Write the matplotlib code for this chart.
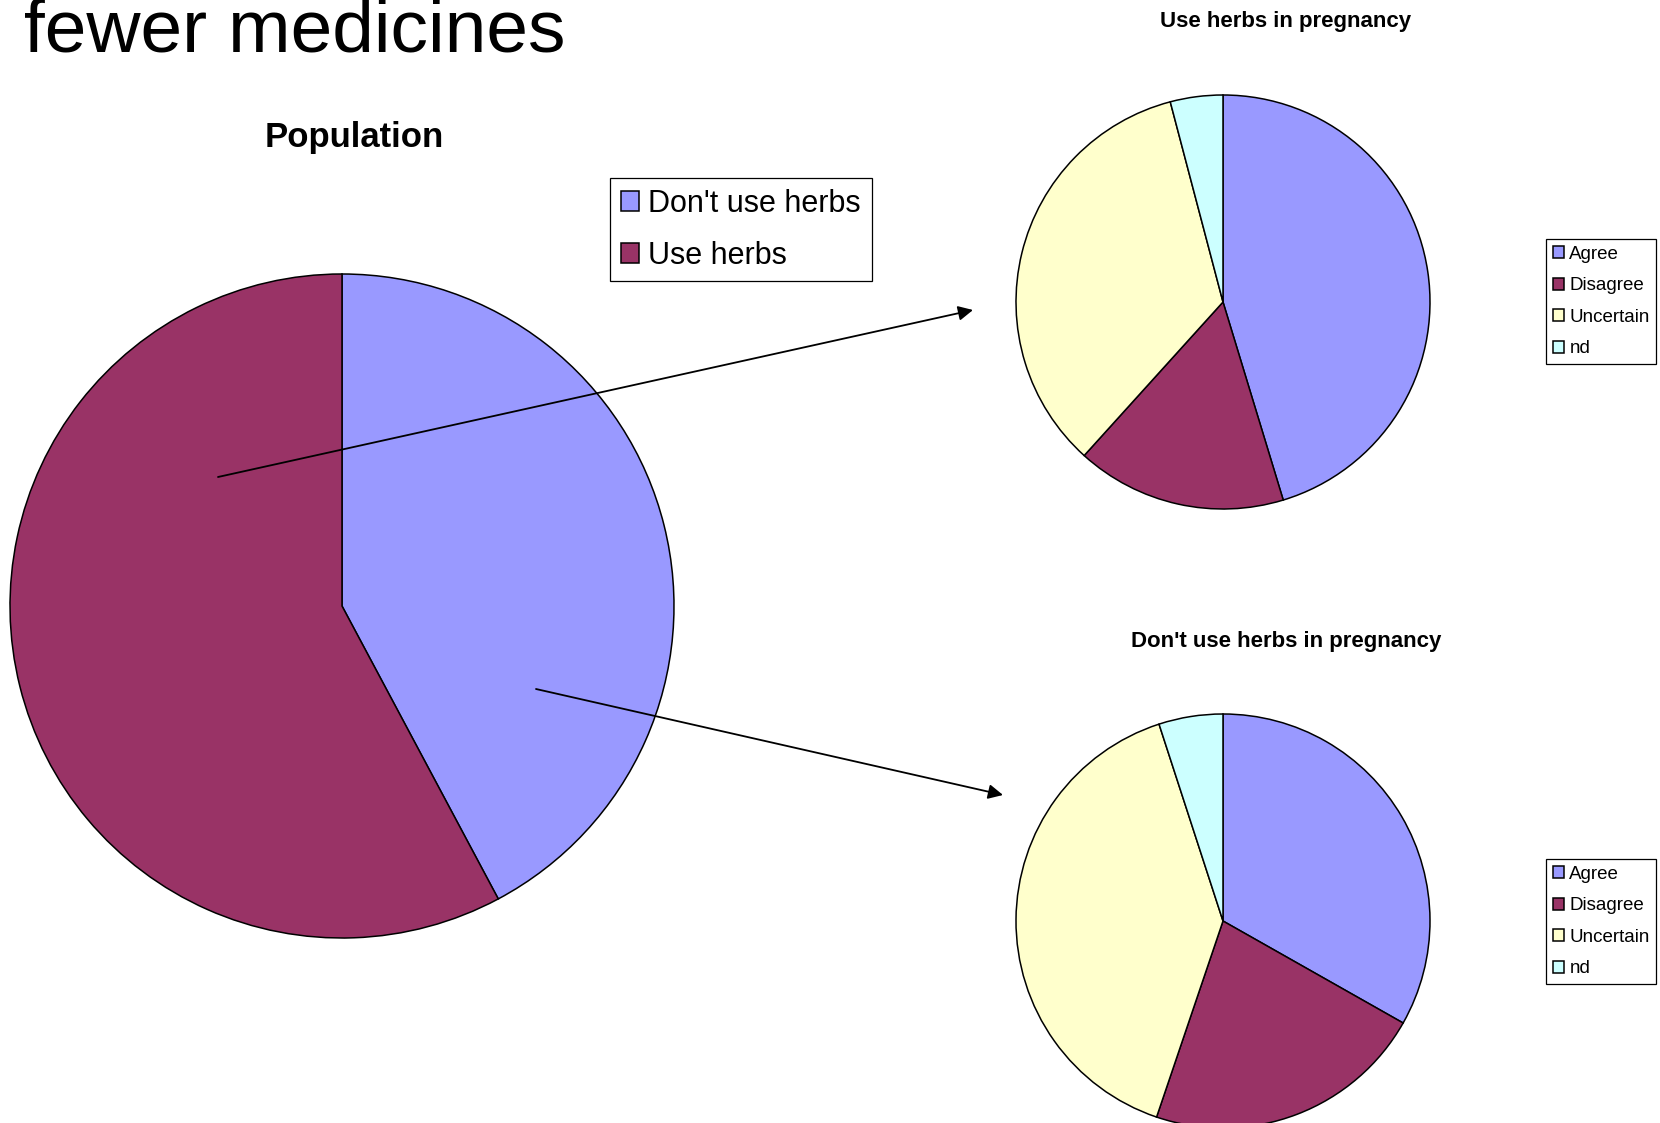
import matplotlib
matplotlib.use("Agg")
import matplotlib.pyplot as plt

plt.rcParams['font.family'] = ['Liberation Sans', 'DejaVu Sans']

# population split
pop_labels = ["Don't use herbs", "Use herbs"]
pop_values = [42.2, 57.8]

# answers by group
answer_labels = ["Agree", "Disagree", "Uncertain", "nd"]
use_herbs_values = [45.3, 16.4, 34.2, 4.1]
no_herbs_values = [33.2, 22.0, 39.8, 5.0]

pop_colors = ["#9999FF", "#993366"]
answer_colors = ["#9999FF", "#993366", "#FFFFCC", "#CCFFFF"]

W, H = 1660, 1123
fig = plt.figure(figsize=(W / 100, H / 100), dpi=100)
ax = fig.add_axes([0, 0, 1, 1])

wedge_style = dict(edgecolor="black", linewidth=1.1)

big, _ = ax.pie(pop_values, colors=pop_colors, startangle=90, counterclock=False,
                center=(342, H - 606), radius=332, wedgeprops=wedge_style)
top, _ = ax.pie(use_herbs_values, colors=answer_colors, startangle=90, counterclock=False,
                center=(1223, H - 302), radius=207, wedgeprops=wedge_style)
bottom, _ = ax.pie(no_herbs_values, colors=answer_colors, startangle=90, counterclock=False,
                   center=(1223, H - 921), radius=207, wedgeprops=wedge_style)

ax.set_xlim(0, W)
ax.set_ylim(0, H)
ax.set_aspect("equal")
ax.axis("off")

# arrows from the population pie to the group pies
arrow = dict(arrowstyle="-|>", color="black", lw=1.3, mutation_scale=22, shrinkA=0, shrinkB=0)
ax.annotate("", xy=(973, H - 310), xytext=(218, H - 477), arrowprops=arrow)
ax.annotate("", xy=(1003, H - 795), xytext=(536, H - 689), arrowprops=arrow)

# titles
fig.text(24 / W, 1 - 52 / H, "fewer medicines", fontsize=54, va="baseline", ha="left")
fig.text(354 / W, 1 - 137 / H, "Population", fontsize=25, fontweight="bold",
         ha="center", va="center")
fig.text(1286 / W, 1 - 22 / H, "Use herbs in pregnancy", fontsize=16, fontweight="bold",
         ha="center", va="center")
fig.text(1286 / W, 1 - 641 / H, "Don't use herbs in pregnancy", fontsize=16,
         fontweight="bold", ha="center", va="center")


def add_legend(handles, labels, x, y, size, spacing):
    leg = fig.legend(handles, labels, loc="upper left", bbox_to_anchor=(x / W, 1 - y / H),
                     fontsize=size, frameon=True, fancybox=False, shadow=False,
                     handlelength=0.6, handleheight=0.6, handletextpad=0.3,
                     labelspacing=spacing, borderpad=0.35, borderaxespad=0)
    frame = leg.get_frame()
    frame.set_edgecolor("black")
    frame.set_linewidth(0.9)
    frame.set_alpha(1)
    return leg


add_legend(big, pop_labels, 610, 178, 22, 0.72)
add_legend(top, answer_labels, 1546, 239, 13.5, 0.78)
add_legend(bottom, answer_labels, 1546, 859, 13.5, 0.78)

fig.savefig("out.png", dpi=100)
